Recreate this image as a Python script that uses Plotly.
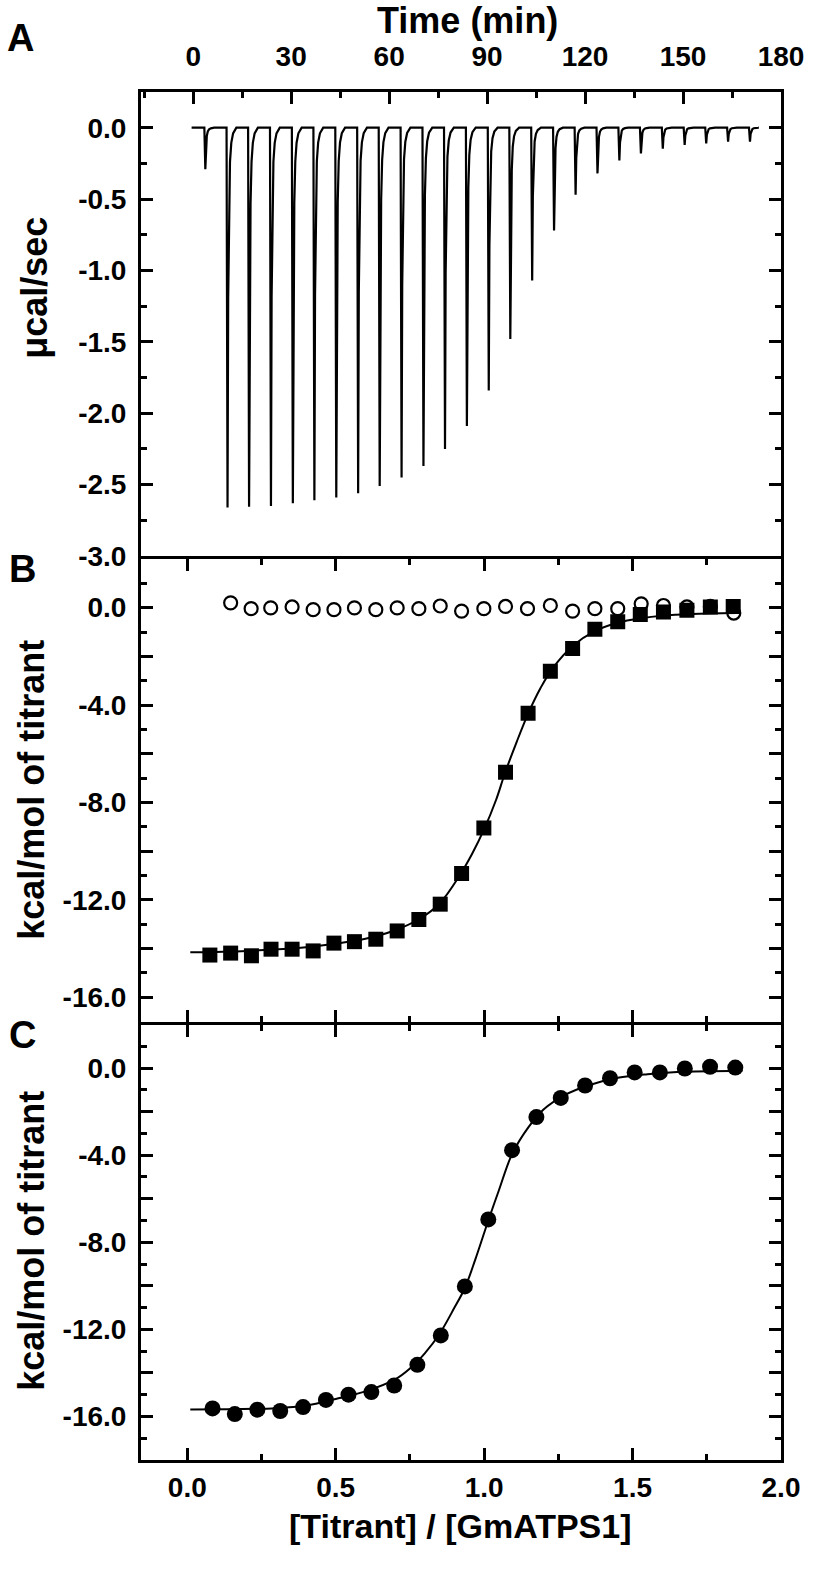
import plotly.graph_objects as go

# ---------------- panel A : raw thermogram ----------------
inj_time = [3.4, 10.2, 16.8, 23.5, 30.2, 36.8, 43.5, 50.2, 56.8, 63.5, 70.2, 76.8, 83.5,
            90.2, 96.8, 103.5, 110.2, 116.8, 123.5, 130.2, 136.8, 143.5, 150.2, 156.8, 163.5, 170.2]
inj_peak = [-0.29, -2.66, -2.655, -2.65, -2.63, -2.61, -2.59, -2.56, -2.51, -2.45, -2.37, -2.25, -2.09,
            -1.84, -1.48, -1.07, -0.72, -0.47, -0.32, -0.23, -0.18, -0.147, -0.12, -0.11, -0.098, -0.098]
# shape of one injection peak (min after injection, fraction of depth)
shape_dt = [0.0, 0.3, 0.5, 0.75, 1.05, 1.45, 2.0, 3.0]
shape_fr = [0.0, 1.0, 0.45, 0.2, 0.09, 0.04, 0.015, 0.0]
base_start, base_end = -0.5, 173.0
time_ticks = [0, 30, 60, 90, 120, 150, 180]
ucal_ticks = [0.0, -0.5, -1.0, -1.5, -2.0, -2.5, -3.0]

# ---------------- panel B ----------------
titr_x = [0.076, 0.146, 0.216, 0.282, 0.353, 0.424, 0.494, 0.563, 0.635, 0.707, 0.780, 0.852, 0.924,
          0.999, 1.072, 1.148, 1.223, 1.298, 1.373, 1.450, 1.526, 1.604, 1.683, 1.762, 1.839]
titr_y = [-14.27, -14.19, -14.30, -14.03, -14.03, -14.10, -13.78, -13.72, -13.62, -13.28, -12.81, -12.18, -10.92,
          -9.05, -6.76, -4.34, -2.61, -1.68, -0.89, -0.58, -0.28, -0.18, -0.11, 0.03, 0.05]
blank_x = [0.146, 0.215, 0.281, 0.353, 0.424, 0.494, 0.563, 0.635, 0.707, 0.780, 0.852, 0.924,
           0.999, 1.072, 1.146, 1.223, 1.298, 1.373, 1.450, 1.529, 1.604, 1.683, 1.762, 1.841]
blank_y = [0.20, -0.04, -0.01, 0.03, -0.08, -0.08, -0.01, -0.08, -0.01, -0.04, 0.07, -0.14,
           -0.04, 0.05, -0.04, 0.09, -0.14, -0.04, -0.04, 0.16, 0.09, 0.03, 0.05, -0.22]
fitB_x = [0.01, 0.2, 0.4, 0.5, 0.6, 0.7, 0.78, 0.85, 0.92, 0.96, 1.0, 1.04, 1.07, 1.11,
          1.15, 1.19, 1.23, 1.3, 1.37, 1.45, 1.53, 1.6, 1.7, 1.85]
fitB_y = [-14.16, -14.1, -13.95, -13.8, -13.6, -13.25, -12.8, -12.15, -10.95, -10.1, -9.1, -7.9, -6.8, -5.5,
          -4.3, -3.3, -2.5, -1.55, -0.98, -0.62, -0.43, -0.33, -0.26, -0.22]

# ---------------- panel C ----------------
ratio_x = [0.085, 0.160, 0.236, 0.313, 0.390, 0.467, 0.543, 0.620, 0.697, 0.775, 0.854, 0.935,
           1.014, 1.094, 1.176, 1.258, 1.340, 1.424, 1.507, 1.592, 1.676, 1.761, 1.846]
ratio_y = [-15.63, -15.89, -15.69, -15.75, -15.57, -15.24, -15.00, -14.88, -14.58, -13.63, -12.28, -10.03,
           -6.95, -3.77, -2.25, -1.37, -0.80, -0.47, -0.20, -0.20, -0.02, 0.06, 0.02]
fitC_x = [0.01, 0.3, 0.4, 0.5, 0.6, 0.7, 0.75, 0.8, 0.85, 0.9, 0.935, 0.97, 1.014, 1.05, 1.094,
          1.15, 1.2, 1.27, 1.35, 1.45, 1.55, 1.65, 1.87]
fitC_y = [-15.68, -15.62, -15.5, -15.2, -14.85, -14.3, -13.8, -13.1, -12.2, -11.0, -10.1, -8.8, -7.0,
          -5.6, -3.95, -2.7, -1.9, -1.25, -0.8, -0.45, -0.28, -0.18, -0.12]
kcal_major = [0, -2, -4, -6, -8, -10, -12, -14, -16]
kcal_minor = [1, -1, -3, -5, -7, -9, -11, -13, -15, -17]

FONT = "Liberation Sans, Arial, sans-serif"

# build the thermogram from the injections
tA, yA = [base_start], [0.0]
for t0, d in zip(inj_time, inj_peak):
    for dt, fr in zip(shape_dt, shape_fr):
        tA.append(t0 + dt)
        yA.append(d * fr)
tA.append(base_end)
yA.append(0.0)

fig = go.Figure()
fig.add_trace(go.Scatter(x=tA, y=yA, mode='lines', line=dict(color='black', width=2.2),
                         xaxis='x', yaxis='y'))
fig.add_trace(go.Scatter(x=blank_x, y=blank_y, mode='markers', xaxis='x2', yaxis='y2',
                         marker=dict(symbol='circle-open', size=13, color='black', line=dict(width=2.2))))
fig.add_trace(go.Scatter(x=fitB_x, y=fitB_y, mode='lines', line=dict(color='black', width=2, shape='spline'),
                         xaxis='x2', yaxis='y2'))
fig.add_trace(go.Scatter(x=titr_x, y=titr_y, mode='markers', xaxis='x2', yaxis='y2',
                         marker=dict(symbol='square', size=15, color='black')))
fig.add_trace(go.Scatter(x=fitC_x, y=fitC_y, mode='lines', line=dict(color='black', width=2, shape='spline'),
                         xaxis='x3', yaxis='y3'))
fig.add_trace(go.Scatter(x=ratio_x, y=ratio_y, mode='markers', xaxis='x3', yaxis='y3',
                         marker=dict(symbol='circle', size=16, color='black')))

FW, FH = 816, 1569
L, R, T, B = 141, 30, 92, 109
W, H = FW - L - R, FH - T - B
bottom_px = FH - B


def frac(ypx):
    return (bottom_px - ypx) / H


# 3px gaps so the axis lines of neighbouring panels sit on top of each other
dA = [frac(556), 1]
dB = [frac(1021.5), frac(559)]
dC = [0, frac(1024.5)]

tickfont = dict(family=FONT, size=28, color='black', weight='bold')
common = dict(showline=True, linewidth=3, linecolor='black', ticks='inside', ticklen=12, tickwidth=3,
              tickcolor='black', showgrid=False, zeroline=False, tickfont=tickfont)


def minor(**kw):
    d = dict(ticklen=6, tickwidth=3, tickcolor='black', ticks='inside', showgrid=False)
    d.update(kw)
    return d


kcal_text = ['%.1f' % v if v % 4 == 0 else '' for v in kcal_major]

fig.update_layout(
    width=FW, height=FH,
    margin=dict(l=L, r=R, t=T, b=B),
    paper_bgcolor='white', plot_bgcolor='white',
    showlegend=False,
    xaxis=dict(common, anchor='y', side='top', range=[-16, 180], tickmode='array', tickvals=time_ticks,
               mirror=True, minor=minor(dtick=15, tick0=0), ticklabelstandoff=12),
    yaxis=dict(common, domain=dA, anchor='x', range=[-3, 0.25], tickmode='array', tickvals=ucal_ticks,
               ticktext=['%.1f' % v for v in ucal_ticks], mirror='ticks', ticklabelstandoff=6,
               minor=minor(dtick=0.25, tick0=0)),
    xaxis2=dict(common, anchor='y2', range=[-0.156, 2.0], tick0=0, dtick=0.5, mirror='ticks',
                showticklabels=False, minor=minor(dtick=0.25, tick0=0)),
    yaxis2=dict(common, domain=dB, anchor='x2', range=[-17, 2], tickmode='array', tickvals=kcal_major,
                ticktext=kcal_text, mirror='ticks', ticklabelstandoff=6, minor=minor(tickvals=kcal_minor)),
    xaxis3=dict(common, anchor='y3', range=[-0.156, 2.0], tick0=0, dtick=0.5, tickformat='.1f', mirror='ticks',
                minor=minor(dtick=0.25, tick0=0), ticklabelstandoff=0),
    yaxis3=dict(common, domain=dC, anchor='x3', range=[-18, 2], tickmode='array', tickvals=kcal_major,
                ticktext=kcal_text, mirror='ticks', ticklabelstandoff=6, minor=minor(tickvals=kcal_minor)),
)


def note(text, x, y, size, angle=0):
    # x, y are page pixels
    xp = (x - L) / W
    yp = (bottom_px - y) / H
    fig.add_annotation(text=text, x=xp, y=yp, xref='paper', yref='paper', showarrow=False,
                       textangle=angle, xanchor='center', yanchor='middle',
                       font=dict(family=FONT, size=size, color='black', weight='bold'))


note('Time (min)', 470, 20, 36)
note('[Titrant] / [GmATPS1]', 463, 1526, 34)
note('\u03bccal/sec', 34, 288, 36, -90)
note('kcal/mol of titrant', 30, 790, 36, -90)
note('kcal/mol of titrant', 30, 1241, 36, -90)
note('A', 20, 38, 38)
note('B', 22, 569, 38)
note('C', 22, 1035, 38)

# drop the browser's default body margin so the figure sits at the page corner
fig.write_html("out.html", config={'displayModeBar': False},
               post_script="document.body.style.margin='0';")
